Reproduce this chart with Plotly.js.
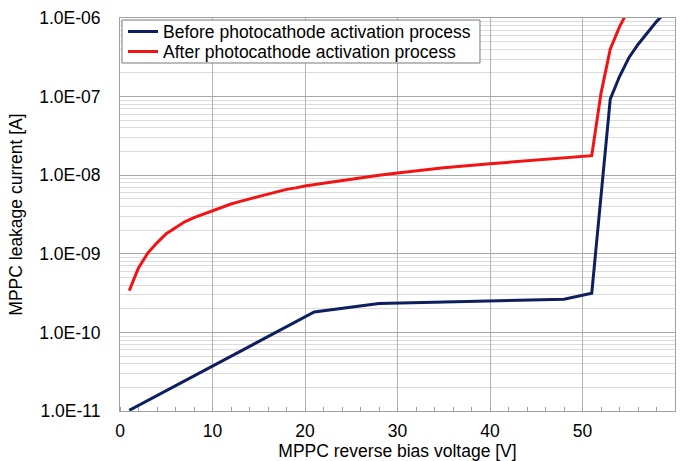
<!DOCTYPE html>
<html>
<head>
<meta charset="utf-8">
<script src="https://cdn.plot.ly/plotly-3.0.1.min.js"></script>
<style>html,body{margin:0;padding:0;background:#fff;}#chart{width:683px;height:461px;}</style>
</head>
<body>
<div id="chart"></div>
<script>
// Before photocathode activation process
const beforeVoltage = [1, 21, 28, 48, 51, 53, 54, 55, 56, 57, 58, 59];
const beforeCurrent = [1.02e-11, 1.82e-10, 2.33e-10, 2.65e-10, 3.15e-10, 9.3e-8, 1.8e-7, 3.1e-7, 4.6e-7, 6.5e-7, 9.0e-7, 1.2e-6];

// After photocathode activation process
const afterVoltage = [1, 2, 3, 4, 5, 6, 7, 8, 9, 10, 11, 12, 13, 14, 15, 16, 17, 18, 19, 20, 22, 24, 26, 28, 30, 32, 35, 40, 45, 51, 52, 53, 54, 55];
const afterCurrent = [3.4e-10, 6.6e-10, 1.02e-9, 1.38e-9, 1.8e-9, 2.16e-9, 2.55e-9, 2.88e-9, 3.2e-9, 3.5e-9, 3.9e-9, 4.3e-9, 4.65e-9, 5.0e-9, 5.4e-9, 5.8e-9, 6.2e-9, 6.6e-9, 6.9e-9, 7.3e-9, 7.9e-9, 8.6e-9, 9.3e-9, 1.0e-8, 1.07e-8, 1.14e-8, 1.24e-8, 1.4e-8, 1.56e-8, 1.77e-8, 1.1e-7, 4.0e-7, 7.7e-7, 1.3e-6];

const seriesNames = ["Before photocathode activation process", "After photocathode activation process"];
const yTickValues = [1e-11, 1e-10, 1e-9, 1e-8, 1e-7, 1e-6];
const yTickLabels = ["1.0E-11", "1.0E-10", "1.0E-09", "1.0E-08", "1.0E-07", "1.0E-06"];
const xTickValues = [0, 10, 20, 30, 40, 50, 60];
const xTitle = "MPPC reverse bias voltage [V]";
const yTitle = "MPPC leakage current [A]";

const traces = [
  {x: beforeVoltage, y: beforeCurrent, name: seriesNames[0], mode: "lines", type: "scatter",
   line: {color: "#0e1f5e", width: 3}, legend: "legend"},
  {x: afterVoltage, y: afterCurrent, name: seriesNames[1], mode: "lines", type: "scatter",
   line: {color: "#f21414", width: 3}, legend: "legend2"}
];

const fontFam = "Liberation Sans, Arial, sans-serif";
const legendStyle = (yPos) => ({
  x: 0.0054, y: yPos, xanchor: "left", yanchor: "middle",
  bgcolor: "rgba(0,0,0,0)", borderwidth: 0,
  font: {family: fontFam, size: 17.5, color: "#000"}, itemwidth: 30
});
const layout = {
  width: 683, height: 461,
  margin: {l: 120, r: 8, t: 18, b: 50},
  paper_bgcolor: "#ffffff", plot_bgcolor: "#ffffff",
  font: {family: fontFam, size: 17.5, color: "#000"},
  showlegend: true,
  legend: legendStyle(0.9651),
  legend2: legendStyle(0.9142),
  shapes: [{type: "rect", xref: "paper", yref: "paper", x0: 0.0036, x1: 0.6486, y0: 0.8855, y1: 0.9949,
    fillcolor: "#ffffff", line: {color: "#777777", width: 1}, layer: "above"}],
  xaxis: {
    range: [0, 60], tickvals: xTickValues, ticktext: xTickValues.map(String),
    showgrid: true, gridcolor: "#b4b4b4", gridwidth: 1,
    showline: true, linecolor: "#a0a0a0", linewidth: 1, mirror: true,
    ticks: "", zeroline: false, ticklabelstandoff: 4,
    tickfont: {family: fontFam, size: 17.5},
    minor: {dtick: 2, ticks: "inside", ticklen: 4, tickcolor: "#a0a0a0", showgrid: false},
    title: {text: xTitle, font: {family: fontFam, size: 17.5}, standoff: 8}
  },
  yaxis: {
    type: "log", range: [-11, -6], tickvals: yTickValues, ticktext: yTickLabels,
    showgrid: true, gridcolor: "#a8a8a8", gridwidth: 1,
    showline: true, linecolor: "#a0a0a0", linewidth: 1, mirror: true,
    ticks: "", zeroline: false, ticklabelstandoff: 15,
    tickfont: {family: fontFam, size: 17.5},
    minor: {dtick: "D1", showgrid: true, gridcolor: "#dcdcdc", gridwidth: 1, ticks: ""},
    title: {text: yTitle, font: {family: fontFam, size: 17.5}, standoff: 12}
  }
};

Plotly.newPlot("chart", traces, layout, {staticPlot: true, displayModeBar: false});
</script>
</body>
</html>
